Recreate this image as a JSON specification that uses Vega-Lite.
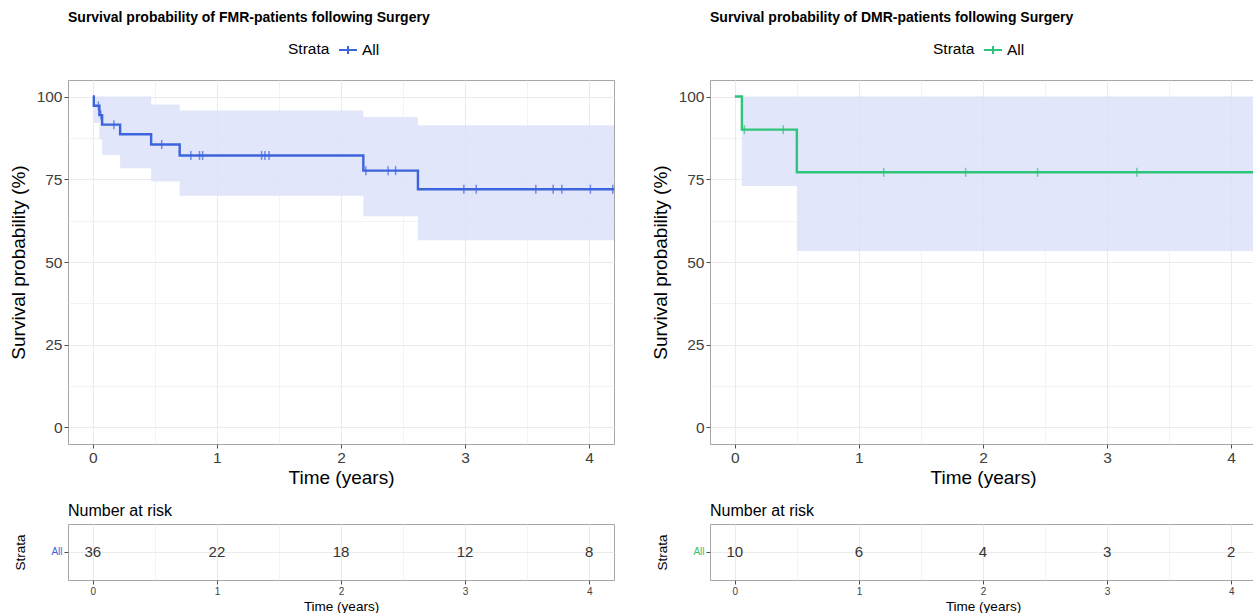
{
 "$schema": "https://vega.github.io/schema/vega-lite/v6.json",
 "background": "white",
 "padding": {"left": 8, "top": 10, "right": 0, "bottom": 0},
 "config": {
  "font": "Liberation Sans",
  "view": {"stroke": "#A6A6A6", "strokeWidth": 1},
  "axis": {"gridColor": "#EBEBEB", "domain": false, "tickColor": "#4D4D4D", "tickSize": 4, "labelColor": "#404040", "titleColor": "#000000", "titleFontWeight": "normal", "labelPadding": 2},
  "title": {"anchor": "start", "frame": "group", "color": "#000000"}
 },
 "spacing": 30,
 "resolve": {"scale": {"color": "independent"}, "legend": {"color": "independent"}},
 "hconcat": [
  {
   "spacing": 14,
   "vconcat": [
    {
     "width": 546, "height": 364,
     "title": {"text": "Survival probability of FMR-patients following Surgery", "fontSize": 14, "fontWeight": "bold", "offset": 55},
     "data": {"values": [
      {"time": 0, "surv": 100, "lower": 100, "upper": 100},
      {"time": 0.008, "surv": 97.2, "lower": 92.0, "upper": 100},
      {"time": 0.053, "surv": 94.4, "lower": 87.0, "upper": 100},
      {"time": 0.075, "surv": 91.5, "lower": 82.3, "upper": 100},
      {"time": 0.22, "surv": 88.6, "lower": 78.3, "upper": 100},
      {"time": 0.47, "surv": 85.5, "lower": 74.3, "upper": 97.6},
      {"time": 0.70, "surv": 82.2, "lower": 70.0, "upper": 95.8},
      {"time": 2.18, "surv": 77.6, "lower": 63.8, "upper": 93.8},
      {"time": 2.62, "surv": 72.0, "lower": 56.6, "upper": 91.3},
      {"time": 4.2, "surv": 72.0, "lower": 56.6, "upper": 91.3}
     ]},
     "encoding": {
      "x": {"field": "time", "type": "quantitative", "scale": {"domain": [-0.2, 4.2], "nice": false, "zero": false},
       "axis": {"title": "Time (years)", "values": [0, 0.5, 1, 1.5, 2, 2.5, 3, 3.5, 4], "labelExpr": "datum.value % 1 === 0 ? format(datum.value, 'd') : ''",
        "tickOpacity": {"condition": {"test": "datum.value % 1 !== 0", "value": 0}, "value": 1},
        "gridWidth": {"condition": {"test": "datum.value % 1 !== 0", "value": 0.6}, "value": 1.1},
        "labelFontSize": 15.5, "titleFontSize": 19, "titlePadding": 2.5, "labelOverlap": false}}
     },
     "layer": [
      {"mark": {"type": "area", "interpolate": "step-after", "color": "#DDE2F9", "opacity": 0.85},
       "encoding": {
        "y": {"field": "lower", "type": "quantitative", "scale": {"domain": [-5, 105], "nice": false, "zero": false},
         "title": "Survival probability (%)",
         "axis": {"values": [0, 12.5, 25, 37.5, 50, 62.5, 75, 87.5, 100], "labelExpr": "datum.value % 25 === 0 ? format(datum.value, 'd') : ''",
          "tickOpacity": {"condition": {"test": "datum.value % 25 !== 0", "value": 0}, "value": 1},
          "gridWidth": {"condition": {"test": "datum.value % 25 !== 0", "value": 0.6}, "value": 1.1},
          "labelFontSize": 15.5, "titleFontSize": 19, "titlePadding": 8, "labelOverlap": false}},
        "y2": {"field": "upper"}}},
      {"mark": {"type": "line", "interpolate": "step-after", "strokeWidth": 2.4},
       "encoding": {
        "y": {"field": "surv", "type": "quantitative", "title": "Survival probability (%)"},
        "color": {"datum": "All", "type": "nominal", "scale": {"range": ["#3C64DC"]},
         "legend": {"orient": "none", "legendX": 220, "legendY": -40, "direction": "horizontal", "title": "Strata", "titleOrient": "left", "titleFontSize": 15.5, "titleFontWeight": "normal", "titleColor": "#000000", "titlePadding": 8, "labelFontSize": 15.5, "labelColor": "#000000", "symbolType": "M-1,0H1M0,-0.45V0.45", "symbolStrokeWidth": 2, "symbolSize": 324, "symbolStrokeColor": "#3C64DC", "symbolFillColor": "transparent"}}}},
      {"data": {"values": [
        {"time": 0.045, "surv": 97.2}, {"time": 0.065, "surv": 94.4}, {"time": 0.17, "surv": 91.5}, {"time": 0.555, "surv": 85.5},
        {"time": 0.79, "surv": 82.2}, {"time": 0.86, "surv": 82.2}, {"time": 0.885, "surv": 82.2}, {"time": 1.36, "surv": 82.2}, {"time": 1.387, "surv": 82.2}, {"time": 1.42, "surv": 82.2},
        {"time": 2.20, "surv": 77.6}, {"time": 2.38, "surv": 77.6}, {"time": 2.44, "surv": 77.6},
        {"time": 2.99, "surv": 72.0}, {"time": 3.09, "surv": 72.0}, {"time": 3.57, "surv": 72.0}, {"time": 3.71, "surv": 72.0}, {"time": 3.78, "surv": 72.0}, {"time": 4.01, "surv": 72.0}, {"time": 4.19, "surv": 72.0}
       ]},
       "mark": {"type": "tick", "orient": "vertical", "size": 9, "thickness": 1.5, "color": "#3C64DC"},
       "encoding": {"y": {"field": "surv", "type": "quantitative", "title": "Survival probability (%)"}}}
     ]
    },
    {
     "width": 546, "height": 56,
     "title": {"text": "Number at risk", "fontSize": 16, "fontWeight": "normal", "offset": 5},
     "data": {"values": [
      {"time": 0, "n": 36, "strata": "All"}, {"time": 1, "n": 22, "strata": "All"}, {"time": 2, "n": 18, "strata": "All"}, {"time": 3, "n": 12, "strata": "All"}, {"time": 4, "n": 8, "strata": "All"}
     ]},
     "mark": {"type": "text", "fontSize": 15, "color": "#333333"},
     "encoding": {
      "x": {"field": "time", "type": "quantitative", "scale": {"domain": [-0.2, 4.2], "nice": false, "zero": false},
       "axis": {"title": "Time (years)", "values": [0, 0.5, 1, 1.5, 2, 2.5, 3, 3.5, 4], "labelExpr": "datum.value % 1 === 0 ? format(datum.value, 'd') : ''",
        "tickOpacity": {"condition": {"test": "datum.value % 1 !== 0", "value": 0}, "value": 1},
        "gridWidth": {"condition": {"test": "datum.value % 1 !== 0", "value": 0.6}, "value": 1.1},
        "labelFontSize": 10, "titleFontSize": 13.5, "titlePadding": 3, "labelOverlap": false}},
      "y": {"field": "strata", "type": "nominal", "axis": {"title": "Strata", "labelColor": "#3C64DC", "labelFontSize": 10, "titleFontSize": 13.5, "titlePadding": 23, "grid": true, "bandPosition": 0.5, "tickBand": "center"}},
      "text": {"field": "n", "type": "quantitative"}
     }
    }
   ]
  },
  {
   "spacing": 14,
   "vconcat": [
    {
     "width": 546, "height": 364,
     "title": {"text": "Survival probability of DMR-patients following Surgery", "fontSize": 14, "fontWeight": "bold", "offset": 55},
     "data": {"values": [
      {"time": 0, "surv": 100, "lower": 100, "upper": 100},
      {"time": 0.057, "surv": 90.0, "lower": 73.0, "upper": 100},
      {"time": 0.50, "surv": 77.1, "lower": 53.3, "upper": 100},
      {"time": 4.2, "surv": 77.1, "lower": 53.3, "upper": 100}
     ]},
     "encoding": {
      "x": {"field": "time", "type": "quantitative", "scale": {"domain": [-0.2, 4.2], "nice": false, "zero": false},
       "axis": {"title": "Time (years)", "values": [0, 0.5, 1, 1.5, 2, 2.5, 3, 3.5, 4], "labelExpr": "datum.value % 1 === 0 ? format(datum.value, 'd') : ''",
        "tickOpacity": {"condition": {"test": "datum.value % 1 !== 0", "value": 0}, "value": 1},
        "gridWidth": {"condition": {"test": "datum.value % 1 !== 0", "value": 0.6}, "value": 1.1},
        "labelFontSize": 15.5, "titleFontSize": 19, "titlePadding": 2.5, "labelOverlap": false}}
     },
     "layer": [
      {"mark": {"type": "area", "interpolate": "step-after", "color": "#DDE2F9", "opacity": 0.85},
       "encoding": {
        "y": {"field": "lower", "type": "quantitative", "scale": {"domain": [-5, 105], "nice": false, "zero": false},
         "title": "Survival probability (%)",
         "axis": {"values": [0, 12.5, 25, 37.5, 50, 62.5, 75, 87.5, 100], "labelExpr": "datum.value % 25 === 0 ? format(datum.value, 'd') : ''",
          "tickOpacity": {"condition": {"test": "datum.value % 25 !== 0", "value": 0}, "value": 1},
          "gridWidth": {"condition": {"test": "datum.value % 25 !== 0", "value": 0.6}, "value": 1.1},
          "labelFontSize": 15.5, "titleFontSize": 19, "titlePadding": 8, "labelOverlap": false}},
        "y2": {"field": "upper"}}},
      {"mark": {"type": "line", "interpolate": "step-after", "strokeWidth": 2.4},
       "encoding": {
        "y": {"field": "surv", "type": "quantitative", "title": "Survival probability (%)"},
        "color": {"datum": "All", "type": "nominal", "scale": {"range": ["#2EC47A"]},
         "legend": {"orient": "none", "legendX": 223, "legendY": -40, "direction": "horizontal", "title": "Strata", "titleOrient": "left", "titleFontSize": 15.5, "titleFontWeight": "normal", "titleColor": "#000000", "titlePadding": 8, "labelFontSize": 15.5, "labelColor": "#000000", "symbolType": "M-1,0H1M0,-0.45V0.45", "symbolStrokeWidth": 2, "symbolSize": 324, "symbolStrokeColor": "#2EC47A", "symbolFillColor": "transparent"}}}},
      {"data": {"values": [
        {"time": 0.077, "surv": 90.0}, {"time": 0.39, "surv": 90.0},
        {"time": 1.20, "surv": 77.1}, {"time": 1.86, "surv": 77.1}, {"time": 2.44, "surv": 77.1}, {"time": 3.24, "surv": 77.1}
       ]},
       "mark": {"type": "tick", "orient": "vertical", "size": 9, "thickness": 1.5, "color": "#2EC47A"},
       "encoding": {"y": {"field": "surv", "type": "quantitative", "title": "Survival probability (%)"}}}
     ]
    },
    {
     "width": 546, "height": 56,
     "title": {"text": "Number at risk", "fontSize": 16, "fontWeight": "normal", "offset": 5},
     "data": {"values": [
      {"time": 0, "n": 10, "strata": "All"}, {"time": 1, "n": 6, "strata": "All"}, {"time": 2, "n": 4, "strata": "All"}, {"time": 3, "n": 3, "strata": "All"}, {"time": 4, "n": 2, "strata": "All"}
     ]},
     "mark": {"type": "text", "fontSize": 15, "color": "#333333"},
     "encoding": {
      "x": {"field": "time", "type": "quantitative", "scale": {"domain": [-0.2, 4.2], "nice": false, "zero": false},
       "axis": {"title": "Time (years)", "values": [0, 0.5, 1, 1.5, 2, 2.5, 3, 3.5, 4], "labelExpr": "datum.value % 1 === 0 ? format(datum.value, 'd') : ''",
        "tickOpacity": {"condition": {"test": "datum.value % 1 !== 0", "value": 0}, "value": 1},
        "gridWidth": {"condition": {"test": "datum.value % 1 !== 0", "value": 0.6}, "value": 1.1},
        "labelFontSize": 10, "titleFontSize": 13.5, "titlePadding": 3, "labelOverlap": false}},
      "y": {"field": "strata", "type": "nominal", "axis": {"title": "Strata", "labelColor": "#2EC47A", "labelFontSize": 10, "titleFontSize": 13.5, "titlePadding": 23, "grid": true, "bandPosition": 0.5, "tickBand": "center"}},
      "text": {"field": "n", "type": "quantitative"}
     }
    }
   ]
  }
 ]
}
